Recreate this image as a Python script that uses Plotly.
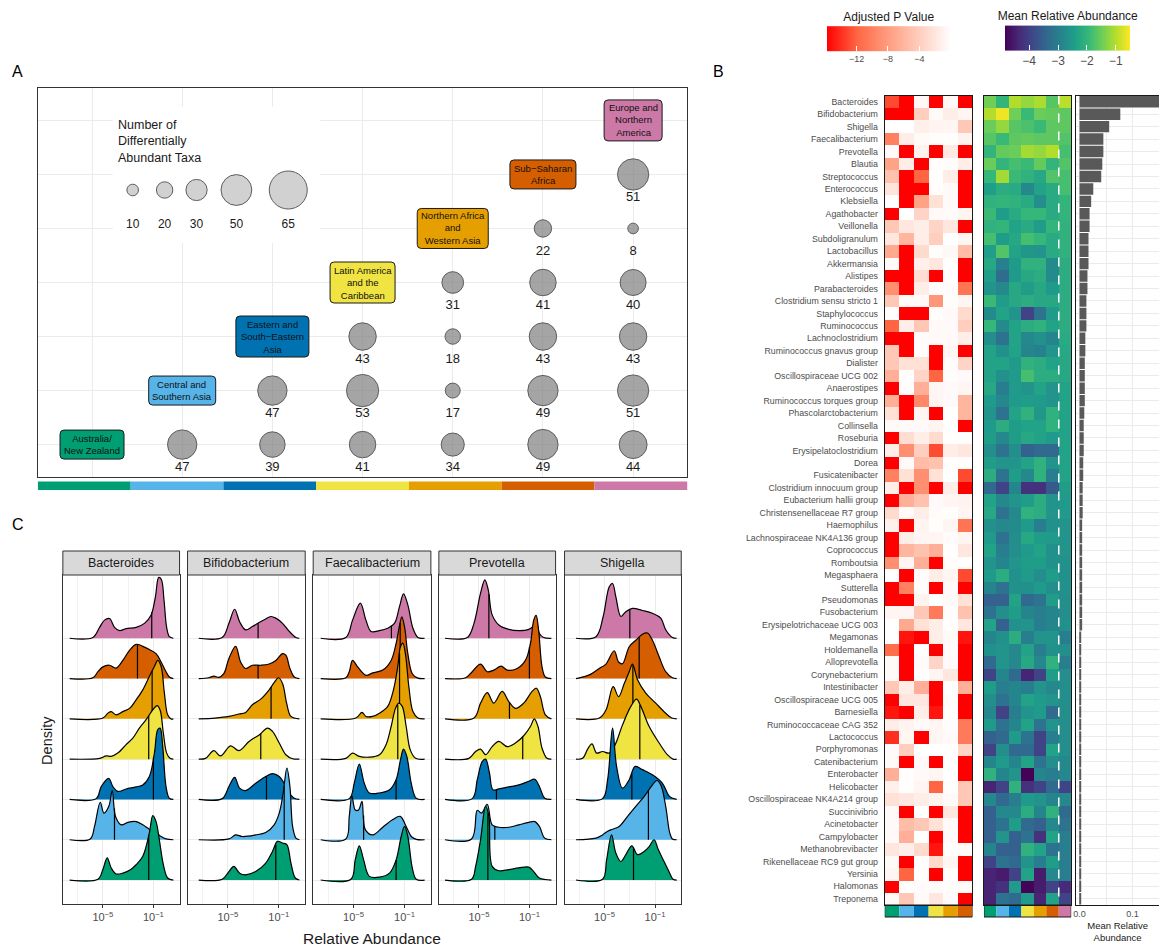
import numpy as np
import plotly.graph_objects as go

W, H = 1159, 947
FONT = "Liberation Sans, Arial, Helvetica, sans-serif"
INK = "#1A1A1A"
GREY30 = "#4D4D4D"
GRID = "#EBEBEB"
FRAME = "#333333"

# ---------------------------------------------------------------- regions
REGION_CODES = ["AUS", "CSA", "ESEA", "LAC", "NAWA", "SSA", "ENA"]
REGION_LABELS = [
    "Australia/<br>New Zealand",
    "Central and<br>Southern Asia",
    "Eastern and<br>South\u2212Eastern<br>Asia",
    "Latin America<br>and the<br>Caribbean",
    "Northern Africa<br>and<br>Western Asia",
    "Sub\u2212Saharan<br>Africa",
    "Europe and<br>Northern<br>America",
]
REGION_COLORS = ["#009E73", "#56B4E9", "#0072B2", "#F0E442", "#E69F00", "#D55E00", "#CC79A7"]

# ---------------------------------------------------------------- panel A data
PAIR_ROW = [1, 1, 1, 1, 1, 1, 2, 2, 2, 2, 2, 3, 3, 3, 3, 4, 4, 4, 5, 5, 6]
PAIR_COL = [2, 3, 4, 5, 6, 7, 3, 4, 5, 6, 7, 4, 5, 6, 7, 5, 6, 7, 6, 7, 7]
PAIR_COUNT = [47, 39, 41, 34, 49, 44, 47, 53, 17, 49, 51, 43, 18, 43, 43, 31, 41, 40, 22, 8, 51]
SIZE_KEYS = [10, 20, 30, 50, 65]

# ---------------------------------------------------------------- panel B data
TAXA = [
    "Bacteroides", "Bifidobacterium", "Shigella", "Faecalibacterium", "Prevotella",
    "Blautia", "Streptococcus", "Enterococcus", "Klebsiella", "Agathobacter",
    "Veillonella", "Subdoligranulum", "Lactobacillus", "Akkermansia", "Alistipes",
    "Parabacteroides", "Clostridium sensu stricto 1", "Staphylococcus", "Ruminococcus",
    "Lachnoclostridium", "Ruminococcus gnavus group", "Dialister", "Oscillospiraceae UCG 002",
    "Anaerostipes", "Ruminococcus torques group", "Phascolarctobacterium", "Collinsella",
    "Roseburia", "Erysipelatoclostridium", "Dorea", "Fusicatenibacter",
    "Clostridium innocuum group", "Eubacterium hallii group", "Christensenellaceae R7 group",
    "Haemophilus", "Lachnospiraceae NK4A136 group", "Coprococcus", "Romboutsia",
    "Megasphaera", "Sutterella", "Pseudomonas", "Fusobacterium", "Erysipelotrichaceae UCG 003",
    "Megamonas", "Holdemanella", "Alloprevotella", "Corynebacterium", "Intestinibacter",
    "Oscillospiraceae UCG 005", "Barnesiella", "Ruminococcaceae CAG 352", "Lactococcus",
    "Porphyromonas", "Catenibacterium", "Enterobacter", "Helicobacter",
    "Oscillospiraceae NK4A214 group", "Succinivibrio", "Acinetobacter", "Campylobacter",
    "Methanobrevibacter", "Rikenellaceae RC9 gut group", "Yersinia", "Halomonas", "Treponema",
]

# log10 adjusted p value, each region compared with Europe and Northern America
LOG_ADJ_P = [
    [-13, -16, -0.6, -16, -0.6, -16], [-16, -16, -4, -0.5, -1.5, -0.8],
    [0, 0, -1.2, -0.9, -0.8, -4.5], [-10, -1.5, -0.5, -0.2, -0.1, -1],
    [-0.4, -16, -1, -16, -1.7, -16], [-7.5, -1.5, -16, -0.1, -0.2, -1.5],
    [-5, -16, -12, 0, -1.5, -16], [-2.2, -16, -16, -0.1, -0.5, -16],
    [-0.1, -16, -7.5, -2.5, -0.4, -16], [-16, 0, -3.5, -0.5, -0.3, -0.9],
    [-4.5, -2, -1.5, -3.5, -2, -16], [-2, -6, -1.5, -4, 0, -0.8],
    [-7, -16, -3, -0.2, -0.6, -5.5], [-0.5, -16, -1.2, -2, -0.1, -16],
    [-16, -16, -2.8, -16, -0.1, -16], [-9, -16, -1.5, -0.2, -0.3, -11],
    [-4.5, -0.5, -0.5, -8.5, -0.2, -0.8], [-0.1, -16, -16, -0.1, -0.4, -3],
    [-12, -1.5, -4.5, -0.5, -0.4, -4], [-16, -16, -0.3, -0.5, -0.4, -1.5],
    [-4.5, -16, -0.2, -16, -0.8, -16], [-4.5, -2.5, -2.5, -16, -0.3, -3.5],
    [-6.5, -0.1, -3.5, -12, -0.2, -0.4], [-16, -0.2, -6.5, -0.8, -0.4, -0.8],
    [-6.5, -16, -9.5, -0.8, -0.4, -6], [-2.5, -16, -0.8, -16, 0, -6],
    [-0.5, -0.5, -0.4, -0.9, -0.1, -16], [-16, -2.8, -1.5, -3, -0.1, -0.2],
    [-1.5, -9, -4, -13, -1.5, -2], [-16, -0.5, -5.5, -5, -0.1, -0.2],
    [-10, -2.5, -9, -2.5, 0, -13], [-1.5, -16, -9, -16, -1.5, -16],
    [-16, -6.5, -5, -0.4, -0.8, -1], [-3, -0.5, -1.5, -0.3, -0.1, -0.8],
    [-1.2, -16, -0.9, -0.1, -0.8, -11], [-16, -1.5, -0.8, -0.8, -0.3, -0.9],
    [-16, -6, -5, -6.5, -0.1, -2], [-9, -0.7, -6.5, -16, -0.2, -0.1],
    [0, -16, -0.2, -1.5, -0.8, -13], [-16, -10, -0.2, -16, -0.4, -16],
    [-16, -16, -1, 0, -0.5, -2.5], [-0.7, -0.7, -4.5, -10.5, -0.2, -5],
    [0, -7, -2.5, -1.5, -0.1, -2], [0, -15, -16, -1.5, -0.5, -15],
    [-11.5, -16, 0, -16, -0.3, -16], [-0.5, -16, -0.3, -3.5, -0.4, -16],
    [-0.5, -16, -0.1, -0.7, -2, -16], [-4.5, -1.5, -6.5, -16, 0, -6.5],
    [-16, -2, -2, -16, -0.2, -16], [-15, -16, -1.5, -15, -0.1, -16],
    [-1.5, -0.9, -0.4, -0.8, -0.2, -10.5], [-14, -0.8, -16, -0.7, -0.4, -10.5],
    [-0.4, -4, 0, 0, -0.1, -3.5], [-0.5, -16, -0.4, -16, 0, -16],
    [-6.5, -0.1, -0.4, -0.8, 0, -16], [-1.2, -0.1, -0.8, -12, -0.1, -4.5],
    [-2.5, -2, -1.5, -1, -0.5, -4.5], [-0.5, -16, 0, -16, -2, -16],
    [-0.4, -5.5, -4.5, -2.5, -0.4, -16], [-0.4, -6.5, 0, -16, -0.4, -16],
    [-2, -1.3, -3, -15, -0.1, -0.5], [-0.5, -16, -0.1, -3, -0.8, -16],
    [-0.8, -12, -0.1, -16, -0.1, -16], [-16, -0.1, -0.3, -0.3, -0.2, -0.5],
    [-0.5, -4.5, -0.5, -2, -0.4, -16],
]

# log10 mean relative abundance per region (last column: Europe and Northern America)
LOG_MEAN_ABUND = [
    [-1.45, -2.0, -1.0, -1.2, -1.05, -1.65, -0.95], [-1.0, -0.6, -1.45, -1.9, -1.5, -1.55, -1.6],
    [-1.5, -1.2, -1.65, -1.75, -1.9, -1.6, -1.6], [-1.65, -1.9, -1.6, -1.55, -1.6, -1.6, -1.7],
    [-2.0, -1.55, -1.5, -1.1, -1.2, -1.0, -1.8], [-1.5, -2.0, -1.8, -1.9, -1.55, -2.0, -1.7],
    [-1.95, -1.1, -1.9, -2.05, -2.25, -1.7, -1.8], [-2.4, -2.15, -2.2, -2.8, -2.35, -2.2, -1.8],
    [-2.05, -2.0, -2.05, -2.2, -2.7, -2.2, -2.0], [-1.9, -2.45, -2.2, -1.95, -1.95, -2.2, -2.0],
    [-2.05, -2.0, -2.35, -2.2, -2.45, -2.0, -2.05], [-1.8, -2.45, -2.25, -1.8, -1.95, -2.2, -2.05],
    [-2.4, -1.7, -2.35, -2.55, -2.6, -2.2, -2.05], [-2.25, -2.95, -2.5, -2.05, -2.05, -2.75, -2.15],
    [-2.4, -3.3, -2.5, -2.25, -2.15, -2.75, -2.15], [-2.6, -2.8, -2.25, -2.45, -2.25, -2.5, -2.15],
    [-1.9, -2.45, -2.25, -2.15, -2.25, -2.25, -2.15], [-2.75, -2.35, -2.6, -3.95, -3.2, -2.5, -2.15],
    [-1.95, -2.75, -2.35, -2.15, -2.05, -2.35, -2.15], [-2.7, -3.2, -2.35, -2.8, -2.65, -2.85, -2.2],
    [-2.35, -2.65, -2.35, -2.85, -2.95, -2.6, -2.25], [-2.35, -2.35, -2.5, -2.05, -2.15, -2.35, -2.25],
    [-2.35, -2.65, -2.5, -1.8, -2.15, -2.15, -2.25], [-2.25, -3.0, -2.5, -2.6, -2.35, -2.6, -2.35],
    [-2.5, -2.8, -2.5, -2.45, -2.5, -2.6, -2.35], [-2.6, -3.2, -2.35, -2.05, -2.55, -2.05, -2.35],
    [-2.5, -2.15, -2.45, -2.35, -2.35, -2.05, -2.35], [-2.45, -2.8, -2.45, -2.25, -2.35, -2.5, -2.35],
    [-2.7, -3.2, -2.7, -3.5, -3.35, -3.35, -2.35], [-2.45, -2.6, -2.6, -2.35, -2.05, -2.6, -2.35],
    [-2.15, -3.2, -2.45, -2.8, -2.05, -3.0, -2.35], [-3.35, -3.95, -2.85, -4.2, -4.2, -3.6, -2.45],
    [-2.35, -2.8, -2.6, -2.45, -2.15, -2.6, -2.5], [-2.25, -3.2, -2.8, -2.05, -2.15, -2.6, -2.5],
    [-2.65, -2.8, -2.75, -2.5, -3.0, -2.65, -2.6], [-2.5, -3.2, -2.7, -2.25, -2.45, -2.5, -2.6],
    [-2.35, -3.0, -2.7, -2.5, -2.35, -2.65, -2.6], [-2.6, -2.85, -2.6, -2.45, -2.45, -2.65, -2.65],
    [-2.5, -2.15, -2.65, -2.5, -2.7, -2.45, -2.65], [-2.85, -3.2, -2.65, -2.65, -2.5, -2.7, -2.65],
    [-3.5, -3.5, -2.35, -3.35, -3.2, -2.45, -2.7], [-3.2, -2.7, -2.45, -2.85, -3.0, -2.85, -2.7],
    [-2.35, -3.5, -2.65, -2.6, -3.0, -2.85, -2.65], [-2.85, -2.65, -2.15, -3.0, -2.6, -2.6, -3.0],
    [-2.65, -2.6, -2.8, -2.35, -3.0, -2.65, -2.7], [-3.35, -2.6, -2.8, -2.25, -2.8, -2.05, -3.0],
    [-3.95, -2.85, -3.35, -4.4, -3.95, -2.45, -2.7], [-2.45, -3.0, -2.85, -3.0, -2.6, -2.8, -2.7],
    [-2.7, -3.2, -2.85, -2.35, -2.5, -2.6, -2.7], [-2.8, -3.95, -3.0, -2.6, -2.5, -3.35, -2.7],
    [-2.5, -3.2, -2.85, -2.35, -3.2, -2.6, -2.7], [-3.5, -3.35, -2.5, -3.2, -3.95, -3.0, -2.7],
    [-3.95, -2.7, -3.35, -3.35, -3.95, -2.35, -2.7], [-2.85, -2.5, -2.85, -2.35, -3.2, -2.7, -2.8],
    [-2.05, -2.85, -2.6, -4.8, -2.85, -3.0, -2.8], [-4.4, -3.95, -2.05, -4.2, -3.95, -3.35, -3.95],
    [-2.8, -3.35, -3.0, -2.5, -2.6, -2.85, -2.8], [-3.5, -2.8, -2.8, -2.15, -2.85, -2.05, -3.35],
    [-3.5, -3.2, -2.45, -3.35, -3.5, -2.8, -3.2], [-3.5, -2.6, -3.5, -3.2, -4.2, -2.35, -3.0],
    [-2.85, -3.5, -3.5, -2.05, -2.35, -3.2, -3.0], [-3.95, -3.2, -3.35, -2.6, -3.0, -2.45, -3.0],
    [-4.4, -4.5, -3.95, -2.35, -4.5, -2.8, -3.0], [-4.4, -4.2, -2.5, -4.8, -4.5, -3.95, -4.3],
    [-4.4, -3.2, -3.35, -2.5, -4.4, -2.35, -3.95],
]

# overall mean relative abundance per genus
MEAN_REL_ABUND = [
    0.170, 0.077, 0.056, 0.045, 0.045, 0.043, 0.041, 0.026, 0.022, 0.019,
    0.019, 0.017, 0.017, 0.017, 0.015, 0.015, 0.013, 0.013, 0.013, 0.011,
    0.011, 0.010, 0.010, 0.010, 0.010, 0.009, 0.008, 0.008, 0.008, 0.007,
    0.007, 0.006, 0.006, 0.006, 0.005, 0.005, 0.005, 0.005, 0.005, 0.005,
    0.005, 0.005, 0.005, 0.003, 0.003, 0.003, 0.003, 0.003, 0.003, 0.003,
    0.003, 0.003, 0.003, 0.003, 0.003, 0.003, 0.003, 0.003, 0.002, 0.002,
    0.002, 0.002, 0.002, 0.002, 0.002,
]

# ---------------------------------------------------------------- panel C data
# density ridges: (log10 relative abundance, scaled density) per region
RIDGES_BACTEROIDES = {
    "ENA": [(-7.63, 0), (-5.79, 0.02), (-5.26, 0.27), (-4.87, 0.45), (-4.47, 0.49), (-4.08, 0.27), (-3.68, 0.19), (-3.16, 0.24), (-2.37, 0.27), (-1.71, 0.37), (-1.18, 0.58), (-0.84, 1.03), (-0.58, 1.51), (-0.37, 1.46), (-0.16, 0.95), (0.05, 0.27), (0.26, 0.04), (0.58, 0)],
    "SSA": [(-7.63, 0), (-5.79, 0.02), (-5.39, 0.17), (-5.0, 0.29), (-4.47, 0.33), (-3.95, 0.26), (-3.42, 0.45), (-2.89, 0.70), (-2.37, 0.85), (-1.84, 0.80), (-1.32, 0.72), (-0.79, 0.62), (-0.39, 0.41), (0.0, 0.17), (0.26, 0.04), (0.58, 0)],
    "NAWA": [(-7.63, 0), (-5.0, 0.02), (-4.61, 0.14), (-4.34, 0.18), (-3.95, 0.10), (-3.42, 0.18), (-2.89, 0.26), (-2.37, 0.47), (-1.84, 0.72), (-1.32, 1.05), (-0.92, 1.30), (-0.66, 1.45), (-0.39, 1.30), (-0.13, 0.64), (0.13, 0.10), (0.39, 0), (0.58, 0)],
    "LAC": [(-7.63, 0), (-5.26, 0.02), (-4.74, 0.08), (-4.34, 0.07), (-3.82, 0.15), (-3.16, 0.36), (-2.63, 0.52), (-2.11, 0.77), (-1.58, 0.98), (-1.05, 1.22), (-0.71, 1.33), (-0.47, 1.22), (-0.21, 0.64), (0.05, 0.15), (0.32, 0.02), (0.58, 0)],
    "ESEA": [(-7.63, 0), (-5.53, 0.02), (-5.13, 0.32), (-4.53, 0.52), (-4.21, 0.32), (-3.82, 0.20), (-3.16, 0.26), (-2.37, 0.31), (-1.84, 0.36), (-1.32, 0.57), (-0.92, 1.15), (-0.66, 1.73), (-0.47, 1.77), (-0.26, 1.31), (0.0, 0.32), (0.26, 0.03), (0.58, 0)],
    "CSA": [(-7.63, 0), (-6.0, 0.02), (-5.66, 0.33), (-5.21, 0.93), (-4.92, 0.66), (-4.53, 0.83), (-4.26, 1.22), (-4.0, 0.58), (-3.55, 0.37), (-3.03, 0.43), (-2.37, 0.45), (-1.84, 0.37), (-1.32, 0.26), (-0.79, 0.18), (-0.39, 0.08), (0.0, 0.02), (0.58, 0)],
    "AUS": [(-7.63, 0), (-5.39, 0.02), (-5.0, 0.26), (-4.66, 0.55), (-4.34, 0.30), (-3.95, 0.15), (-3.42, 0.17), (-2.89, 0.24), (-2.37, 0.38), (-1.84, 0.59), (-1.32, 1.17), (-1.05, 1.60), (-0.79, 1.45), (-0.53, 1.0), (-0.21, 0.38), (0.13, 0.05), (0.58, 0)],
}
MEDIANS_BACTEROIDES = {"ENA": -1.13, "SSA": -2.26, "NAWA": -1.10, "LAC": -1.37, "ESEA": -1.00, "CSA": -4.08, "AUS": -1.37}

RIDGES_BIFIDOBACTERIUM = {
    "ENA": [(-7.29, 0), (-5.45, 0.02), (-4.92, 0.37), (-4.47, 0.72), (-4.08, 0.41), (-3.61, 0.21), (-3.08, 0.29), (-2.55, 0.39), (-2.03, 0.48), (-1.63, 0.54), (-1.24, 0.50), (-0.71, 0.37), (-0.18, 0.17), (0.34, 0.02), (0.61, 0)],
    "SSA": [(-7.29, 0), (-6.5, 0.02), (-6.1, 0.06), (-5.71, 0.03), (-5.32, 0.12), (-4.92, 0.50), (-4.39, 0.80), (-4.0, 0.41), (-3.61, 0.25), (-3.08, 0.33), (-2.42, 0.33), (-1.76, 0.36), (-1.24, 0.45), (-0.71, 0.62), (-0.45, 0.58), (-0.13, 0.25), (0.21, 0.04), (0.61, 0)],
    "NAWA": [(-7.29, 0), (-6.0, 0.02), (-4.92, 0.06), (-4.13, 0.12), (-3.61, 0.16), (-3.08, 0.35), (-2.42, 0.49), (-1.76, 0.72), (-1.37, 0.90), (-1.03, 1.02), (-0.71, 0.88), (-0.39, 0.39), (-0.05, 0.06), (0.61, 0)],
    "LAC": [(-7.29, 0), (-6.76, 0.02), (-6.1, 0.21), (-5.58, 0.08), (-4.79, 0.33), (-4.13, 0.21), (-3.34, 0.44), (-2.55, 0.60), (-1.89, 0.77), (-1.5, 0.69), (-0.97, 0.40), (-0.45, 0.11), (0.08, 0.01), (0.61, 0)],
    "ESEA": [(-7.29, 0), (-5.45, 0.02), (-4.92, 0.32), (-4.47, 0.55), (-4.08, 0.28), (-3.61, 0.22), (-2.82, 0.40), (-2.03, 0.57), (-1.5, 0.64), (-0.97, 0.57), (-0.58, 0.40), (-0.18, 0.16), (0.21, 0.03), (0.61, 0)],
    "CSA": [(-7.29, 0), (-4.92, 0.02), (-4.39, 0.12), (-3.87, 0.08), (-2.82, 0.12), (-2.03, 0.18), (-1.37, 0.37), (-0.97, 0.66), (-0.66, 1.16), (-0.37, 1.78), (-0.13, 1.32), (0.08, 0.33), (0.34, 0.04), (0.61, 0)],
    "AUS": [(-7.29, 0), (-5.45, 0.02), (-4.92, 0.21), (-4.53, 0.34), (-4.08, 0.17), (-3.61, 0.13), (-2.82, 0.21), (-2.03, 0.42), (-1.5, 0.71), (-1.11, 0.96), (-0.71, 0.92), (-0.37, 0.88), (-0.05, 0.42), (0.29, 0.05), (0.61, 0)],
}
MEDIANS_BIFIDOBACTERIUM = {"ENA": -2.63, "SSA": -2.63, "NAWA": -1.61, "LAC": -2.42, "ESEA": -1.97, "CSA": -0.58, "AUS": -1.24}

RIDGES_FAECALIBACTERIUM = {
    "ENA": [(-7.58, 0), (-5.61, 0.02), (-5.08, 0.45), (-4.47, 0.87), (-4.03, 0.45), (-3.63, 0.17), (-2.97, 0.19), (-2.32, 0.25), (-1.79, 0.37), (-1.39, 0.79), (-1.08, 1.10), (-0.74, 0.83), (-0.34, 0.25), (0.05, 0.02), (0.58, 0)],
    "SSA": [(-7.58, 0), (-5.61, 0.02), (-5.34, 0.17), (-5.08, 0.45), (-4.68, 0.29), (-4.03, 0.08), (-3.5, 0.14), (-2.71, 0.21), (-2.05, 0.45), (-1.66, 0.87), (-1.39, 1.32), (-1.21, 1.53), (-1.0, 1.28), (-0.74, 0.62), (-0.39, 0.12), (0.05, 0.01), (0.58, 0)],
    "NAWA": [(-7.58, 0), (-4.82, 0.02), (-4.34, 0.16), (-4.03, 0.06), (-3.5, 0.06), (-2.97, 0.14), (-2.32, 0.31), (-1.87, 0.72), (-1.53, 1.30), (-1.32, 1.79), (-1.13, 1.88), (-0.92, 1.59), (-0.66, 0.80), (-0.34, 0.18), (0.05, 0.02), (0.58, 0)],
    "LAC": [(-7.58, 0), (-5.61, 0.02), (-5.08, 0.15), (-4.55, 0.07), (-3.76, 0.05), (-2.97, 0.11), (-2.45, 0.36), (-2.05, 0.81), (-1.71, 1.26), (-1.45, 1.39), (-1.18, 1.31), (-0.87, 0.81), (-0.55, 0.23), (-0.13, 0.02), (0.58, 0)],
    "ESEA": [(-7.58, 0), (-5.34, 0.02), (-4.95, 0.40), (-4.55, 0.88), (-4.16, 0.40), (-3.76, 0.16), (-2.97, 0.16), (-2.18, 0.24), (-1.66, 0.49), (-1.32, 0.98), (-1.08, 1.25), (-0.82, 1.07), (-0.47, 0.40), (-0.08, 0.03), (0.58, 0)],
    "CSA": [(-7.58, 0), (-5.61, 0.02), (-5.34, 0.58), (-5.13, 1.09), (-4.87, 0.74), (-4.61, 0.74), (-4.34, 0.95), (-4.08, 0.25), (-3.5, 0.12), (-2.71, 0.31), (-1.92, 0.50), (-1.34, 0.58), (-0.87, 0.33), (-0.47, 0.08), (-0.08, 0.01), (0.58, 0)],
    "AUS": [(-7.58, 0), (-5.21, 0.02), (-4.87, 0.50), (-4.55, 0.85), (-4.21, 0.50), (-3.76, 0.09), (-2.97, 0.07), (-2.18, 0.17), (-1.66, 0.50), (-1.26, 1.08), (-1.0, 1.33), (-0.74, 1.08), (-0.39, 0.30), (-0.08, 0.02), (0.58, 0)],
}
MEDIANS_FAECALIBACTERIUM = {"ENA": -2.03, "SSA": -1.34, "NAWA": -1.39, "LAC": -1.53, "ESEA": -1.66, "CSA": -4.21, "AUS": -1.66}

RIDGES_PREVOTELLA = {
    "ENA": [(-7.68, 0), (-5.92, 0.02), (-5.39, 0.37), (-4.87, 1.12), (-4.53, 1.45), (-4.26, 1.20), (-3.95, 0.58), (-3.42, 0.33), (-2.63, 0.22), (-1.84, 0.19), (-1.05, 0.22), (-0.74, 0.29), (-0.47, 0.45), (-0.21, 0.12), (0.13, 0.02), (0.74, 0)],
    "SSA": [(-7.68, 0), (-6.05, 0.02), (-5.53, 0.17), (-4.87, 0.36), (-4.34, 0.17), (-3.82, 0.21), (-3.24, 0.31), (-2.76, 0.21), (-1.97, 0.25), (-1.32, 0.45), (-0.92, 0.87), (-0.66, 1.45), (-0.47, 1.57), (-0.26, 1.16), (0.0, 0.29), (0.26, 0.04), (0.74, 0)],
    "NAWA": [(-7.68, 0), (-5.39, 0.02), (-4.87, 0.39), (-4.34, 0.65), (-3.82, 0.39), (-3.16, 0.68), (-2.63, 0.43), (-2.11, 0.26), (-1.45, 0.39), (-0.79, 0.68), (-0.45, 0.76), (-0.13, 0.55), (0.26, 0.10), (0.74, 0)],
    "LAC": [(-7.68, 0), (-5.79, 0.02), (-5.26, 0.19), (-4.87, 0.25), (-4.47, 0.11), (-3.95, 0.31), (-3.42, 0.44), (-2.76, 0.31), (-2.11, 0.40), (-1.45, 0.58), (-0.92, 0.81), (-0.61, 1.0), (-0.32, 0.81), (0.0, 0.27), (0.39, 0.02), (0.74, 0)],
    "ESEA": [(-7.68, 0), (-5.53, 0.02), (-5.13, 0.49), (-4.74, 0.94), (-4.47, 1.0), (-4.16, 0.65), (-3.89, 0.24), (-3.42, 0.26), (-2.63, 0.31), (-1.84, 0.36), (-1.05, 0.45), (-0.58, 0.50), (-0.21, 0.32), (0.21, 0.03), (0.74, 0)],
    "CSA": [(-7.68, 0), (-5.58, 0.02), (-5.13, 0.73), (-4.79, 0.66), (-4.34, 0.88), (-3.95, 0.37), (-3.42, 0.31), (-2.63, 0.31), (-1.84, 0.37), (-1.05, 0.43), (-0.58, 0.45), (-0.21, 0.33), (0.21, 0.04), (0.74, 0)],
    "AUS": [(-7.68, 0), (-5.58, 0.02), (-5.26, 0.34), (-4.87, 1.0), (-4.47, 1.83), (-4.21, 1.58), (-3.95, 0.34), (-3.42, 0.23), (-2.63, 0.26), (-1.84, 0.30), (-1.05, 0.32), (-0.66, 0.21), (-0.21, 0.05), (0.74, 0)],
}
MEDIANS_PREVOTELLA = {"ENA": -4.21, "SSA": -1.00, "NAWA": -2.58, "LAC": -1.53, "ESEA": -3.61, "CSA": -3.74, "AUS": -4.29}

RIDGES_SHIGELLA = {
    "ENA": [(-7.26, 0), (-5.68, 0.04), (-5.11, 0.54), (-4.63, 1.28), (-4.37, 1.36), (-4.11, 1.03), (-3.71, 0.54), (-3.32, 0.66), (-2.79, 0.74), (-2.0, 0.69), (-1.21, 0.62), (-0.55, 0.50), (-0.16, 0.21), (0.37, 0.02), (0.71, 0)],
    "SSA": [(-7.26, 0), (-6.47, 0.06), (-6.08, 0.11), (-5.42, 0.25), (-4.89, 0.36), (-4.24, 0.69), (-3.89, 0.41), (-3.58, 0.37), (-3.05, 0.79), (-2.53, 0.95), (-2.0, 1.10), (-1.61, 1.13), (-1.21, 0.95), (-0.68, 0.54), (-0.16, 0.17), (0.37, 0.02), (0.71, 0)],
    "NAWA": [(-7.26, 0), (-5.42, 0.02), (-4.89, 0.22), (-4.32, 0.80), (-3.89, 0.55), (-3.45, 0.87), (-3.05, 1.17), (-2.79, 1.36), (-2.39, 0.97), (-1.74, 0.64), (-0.95, 0.39), (-0.16, 0.14), (0.32, 0.02), (0.71, 0)],
    "LAC": [(-7.26, 0), (-6.74, 0.02), (-6.34, 0.25), (-6.0, 0.38), (-5.63, 0.15), (-5.16, 0.19), (-4.63, 0.15), (-4.16, 0.36), (-3.58, 0.85), (-2.92, 1.31), (-2.47, 1.49), (-2.13, 1.31), (-1.47, 0.81), (-0.68, 0.40), (-0.03, 0.11), (0.42, 0), (0.71, 0)],
    "ESEA": [(-7.26, 0), (-5.16, 0.02), (-4.76, 0.49), (-4.37, 1.77), (-4.05, 0.82), (-3.58, 0.28), (-3.05, 0.49), (-2.58, 0.82), (-2.0, 0.74), (-1.21, 0.61), (-0.42, 0.40), (0.16, 0.07), (0.71, 0)],
    "CSA": [(-7.26, 0), (-5.68, 0.04), (-5.16, 0.12), (-4.76, 0.21), (-4.37, 0.26), (-3.84, 0.33), (-3.18, 0.58), (-2.53, 0.83), (-1.87, 1.07), (-1.21, 1.36), (-0.87, 1.47), (-0.55, 1.36), (-0.16, 0.83), (0.16, 0.17), (0.37, 0.02), (0.71, 0)],
    "AUS": [(-7.26, 0), (-5.16, 0.02), (-4.84, 0.50), (-4.45, 1.12), (-4.11, 0.67), (-3.71, 0.46), (-3.32, 0.63), (-2.84, 0.85), (-2.39, 0.63), (-1.87, 0.71), (-1.47, 0.83), (-1.08, 1.0), (-0.74, 0.75), (-0.29, 0.46), (0.16, 0.17), (0.42, 0.02), (0.71, 0)],
}
MEDIANS_SHIGELLA = {"ENA": -3.00, "SSA": -2.26, "NAWA": -2.76, "LAC": -2.21, "ESEA": -2.84, "CSA": -1.53, "AUS": -2.71}

FACETS = [
    ("Bacteroides", RIDGES_BACTEROIDES, MEDIANS_BACTEROIDES),
    ("Bifidobacterium", RIDGES_BIFIDOBACTERIUM, MEDIANS_BIFIDOBACTERIUM),
    ("Faecalibacterium", RIDGES_FAECALIBACTERIUM, MEDIANS_FAECALIBACTERIUM),
    ("Prevotella", RIDGES_PREVOTELLA, MEDIANS_PREVOTELLA),
    ("Shigella", RIDGES_SHIGELLA, MEDIANS_SHIGELLA),
]

assert len(TAXA) == len(LOG_ADJ_P) == len(LOG_MEAN_ABUND) == len(MEAN_REL_ABUND) == 65


# ---------------------------------------------------------------- helpers
def fx(x):
    return x / W


def fy(y):
    return 1 - y / H


def dom_x(a, b):
    return [fx(a), fx(b)]


def dom_y(top, bottom):
    return [fy(bottom), fy(top)]


def rounded_box(w, h, r=4):
    a, b = w / 2, h / 2
    return (f"M {-a + r},{-b} L {a - r},{-b} Q {a},{-b} {a},{-b + r} "
            f"L {a},{b - r} Q {a},{b} {a - r},{b} L {-a + r},{b} Q {-a},{b} {-a},{b - r} "
            f"L {-a},{-b + r} Q {-a},{-b} {-a + r},{-b} Z")


def bubble_px(n):
    return 6.8 + 0.48 * n


def paper_text(x, y, text, size, color=INK, xanchor="center", yanchor="middle", **kw):
    return dict(x=fx(x), y=fy(y), xref="paper", yref="paper", showarrow=False, text=text,
                xanchor=xanchor, yanchor=yanchor, font=dict(size=size, color=color), **kw)


fig = go.Figure()
shapes, annotations = [], []
layout = dict(
    width=W, height=H, margin=dict(l=0, r=0, t=0, b=0),
    paper_bgcolor="white", plot_bgcolor="white", showlegend=False,
    font=dict(family=FONT, color=INK),
)

# ================================================================ panel A
layout["xaxis"] = dict(domain=dom_x(35, 686), range=[0.4, 7.6], tickvals=list(range(1, 8)),
                       showticklabels=False, ticks="", showgrid=True, gridcolor=GRID, gridwidth=1,
                       zeroline=False, showline=True, mirror=True, linecolor=FRAME, linewidth=1)
layout["yaxis"] = dict(domain=dom_y(88, 477), range=[0.4, 7.6], tickvals=list(range(1, 8)),
                       showticklabels=False, ticks="", showgrid=True, gridcolor=GRID, gridwidth=1,
                       zeroline=False, showline=True, mirror=True, linecolor=FRAME, linewidth=1)

# white backing for the size key
shapes.append(dict(type="rect", xref="x", yref="y", x0=1.229, x1=3.53, y0=4.731, y1=7.248,
                   fillcolor="white", line=dict(width=0), layer="between"))

fig.add_trace(go.Scatter(
    x=PAIR_COL, y=PAIR_ROW, mode="markers", xaxis="x", yaxis="y", hoverinfo="skip",
    marker=dict(size=[bubble_px(n) for n in PAIR_COUNT], color="#7F7F7F",
                line=dict(color=INK, width=1)),
))
fig.add_trace(go.Scatter(
    x=PAIR_COL, y=[r - 0.435 for r in PAIR_ROW], mode="text", xaxis="x", yaxis="y",
    text=[str(n) for n in PAIR_COUNT], textfont=dict(size=13, color=INK), hoverinfo="skip",
))

# size key
key_x = [1.451, 1.805, 2.159, 2.601, 3.176]
fig.add_trace(go.Scatter(
    x=key_x, y=[5.712] * len(SIZE_KEYS), mode="markers", xaxis="x", yaxis="y", hoverinfo="skip",
    marker=dict(size=[bubble_px(n) for n in SIZE_KEYS], color="#BEBEBE",
                line=dict(color=INK, width=1)),
))
fig.add_trace(go.Scatter(
    x=key_x, y=[5.064] * len(SIZE_KEYS), mode="text", xaxis="x", yaxis="y", hoverinfo="skip",
    text=[str(n) for n in SIZE_KEYS], textfont=dict(size=12, color=INK),
))
annotations.append(paper_text(113, 116, "Number of<br>Differentially<br>Abundant Taxa", 12.5,
                              xanchor="left", yanchor="top", align="left"))

# region label boxes on the diagonal
LABEL_BOX_PX = [(64, 29), (67, 29), (73, 41), (65, 41), (71, 40), (66, 29), (58, 41)]
for i, (lab, col, (bw, bh)) in enumerate(zip(REGION_LABELS, REGION_COLORS, LABEL_BOX_PX), start=1):
    shapes.append(dict(type="path", xref="x", yref="y", xsizemode="pixel", ysizemode="pixel",
                       xanchor=i, yanchor=i, path=rounded_box(bw, bh), fillcolor=col,
                       line=dict(color=INK, width=1), layer="above"))
    annotations.append(dict(x=i, y=i, xref="x", yref="y", showarrow=False, text=lab,
                            xanchor="center", yanchor="middle",
                            font=dict(size=9.5, color="#111111"), align="center"))

# colour key strip under panel A
seg = (686 - 35) / 7
for k, col in enumerate(REGION_COLORS):
    shapes.append(dict(type="rect", xref="paper", yref="paper", x0=fx(35 + k * seg),
                       x1=fx(35 + (k + 1) * seg), y0=fy(490), y1=fy(481.5), fillcolor=col,
                       line=dict(width=0)))

# ================================================================ panel B
rows = list(range(len(TAXA)))
heat_y = dict(domain=dom_y(95.5, 905), range=[len(TAXA) - 0.5, -0.5], zeroline=False,
              showgrid=False, ticks="", showline=True, mirror=True, linecolor=INK, linewidth=1)

layout["xaxis2"] = dict(domain=dom_x(884, 972), range=[-0.5, 5.5], showticklabels=False,
                        ticks="", showgrid=False, zeroline=False, anchor="y2",
                        showline=True, mirror=True, linecolor=INK, linewidth=1)
layout["yaxis2"] = dict(heat_y, anchor="x2", tickvals=rows, ticktext=TAXA,
                        tickfont=dict(size=8.8, color=GREY30), ticklabelstandoff=4)
layout["xaxis3"] = dict(domain=dom_x(983.5, 1071), range=[-0.5, 6.5], showticklabels=False,
                        ticks="", showgrid=False, zeroline=False, anchor="y3",
                        showline=True, mirror=True, linecolor=INK, linewidth=1)
layout["yaxis3"] = dict(heat_y, anchor="x3", showticklabels=False)

P_SCALE = [[0, "#FF0000"], [0.25, "#FF6846"], [0.5, "#FF9E81"], [0.75, "#FFCFBF"], [1, "#FFFFFF"]]
fig.add_trace(go.Heatmap(
    z=LOG_ADJ_P, x=list(range(6)), y=rows, xaxis="x2", yaxis="y2", colorscale=P_SCALE,
    zmin=-15.8, zmax=0, hoverinfo="skip",
    colorbar=dict(orientation="h", x=fx(888), xanchor="center", y=fy(70), yanchor="bottom",
                  len=124, lenmode="pixels", thickness=25, thicknessmode="pixels",
                  xpad=0, ypad=0, outlinewidth=0,
                  tickvals=[-12, -8, -4], ticktext=["\u221212", "\u22128", "\u22124"],
                  ticks="inside", ticklen=5, tickcolor="white", tickwidth=1,
                  tickfont=dict(size=9, color=GREY30),
                  title=dict(text="Adjusted P Value", side="top", font=dict(size=12, color=INK))),
))
fig.add_trace(go.Heatmap(
    z=LOG_MEAN_ABUND, x=list(range(7)), y=rows, xaxis="x3", yaxis="y3", colorscale="Viridis",
    zmin=-4.83, zmax=-0.5, hoverinfo="skip",
    colorbar=dict(orientation="h", x=fx(1067.5), xanchor="center", y=fy(74), yanchor="bottom",
                  len=125, lenmode="pixels", thickness=25, thicknessmode="pixels",
                  xpad=0, ypad=0, outlinewidth=0,
                  tickvals=[-4, -3, -2, -1], ticktext=["\u22124", "\u22123", "\u22122", "\u22121"],
                  ticks="inside", ticklen=5, tickcolor="white", tickwidth=1,
                  tickfont=dict(size=12, color=GREY30),
                  title=dict(text="Mean Relative Abundance", side="top",
                             font=dict(size=12, color=INK))),
))
shapes.append(dict(type="line", xref="x3", yref="y3", x0=5.5, x1=5.5, y0=-0.5, y1=len(TAXA) - 0.5,
                   line=dict(color="white", width=1.5, dash="dash"), layer="above"))

# region colour strips below the heatmaps
for k in range(6):
    shapes.append(dict(type="rect", xref="x2", yref="paper", x0=k - 0.5, x1=k + 0.5,
                       y0=fy(917), y1=fy(906), fillcolor=REGION_COLORS[k], line=dict(width=0)))
for k in range(7):
    shapes.append(dict(type="rect", xref="x3", yref="paper", x0=k - 0.5, x1=k + 0.5,
                       y0=fy(917), y1=fy(906), fillcolor=REGION_COLORS[k], line=dict(width=0)))
for ax, hi in (("x2", 5.5), ("x3", 6.5)):
    shapes.append(dict(type="rect", xref=ax, yref="paper", x0=-0.5, x1=hi, y0=fy(917), y1=fy(905),
                       fillcolor="rgba(0,0,0,0)", line=dict(color=INK, width=1)))

# mean relative abundance bars
layout["xaxis4"] = dict(domain=dom_x(1076, 1159), range=[-0.0062, 0.150], anchor="y4",
                        tickvals=[0, 0.05, 0.1, 0.15], ticktext=["0.0", "", "0.1", ""],
                        ticks="", tickfont=dict(size=9, color=GREY30), showgrid=True,
                        gridcolor=GRID, gridwidth=1, zeroline=False, showline=True, mirror=True,
                        linecolor=INK, linewidth=1,
                        title=dict(text="Mean Relative<br>Abundance", font=dict(size=9.5, color=INK),
                                   standoff=4))
layout["yaxis4"] = dict(domain=dom_y(95.5, 905), range=[len(TAXA) - 0.5, -0.5], anchor="x4",
                        tickvals=rows, showticklabels=False, ticks="", showgrid=True,
                        gridcolor=GRID, gridwidth=1, zeroline=False, showline=True,
                        linecolor=INK, linewidth=1)
fig.add_trace(go.Bar(x=MEAN_REL_ABUND, y=rows, orientation="h", xaxis="x4", yaxis="y4",
                     marker=dict(color="#595959", line=dict(width=0)), width=0.92,
                     hoverinfo="skip"))

# ================================================================ panel C
FACET_X = [(60, 177), (185, 303), (311, 429), (437, 554), (563, 680)]
RIDGE_ORDER = ["ENA", "SSA", "NAWA", "LAC", "ESEA", "CSA", "AUS"]   # drawn top to bottom
BASELINE = {code: i + 1 for i, code in enumerate(REGION_CODES)}
COLOR_OF = dict(zip(REGION_CODES, REGION_COLORS))

for f, ((name, ridges, medians), (x0p, x1p)) in enumerate(zip(FACETS, FACET_X)):
    n = f + 5
    xa, ya = f"x{n}", f"y{n}"
    layout[f"xaxis{n}"] = dict(domain=dom_x(x0p, x1p), range=[-8.17, 1.07], anchor=ya,
                               tickvals=[-5, -1], ticktext=["10<sup>\u22125</sup>", "10<sup>\u22121</sup>"],
                               ticks="outside", ticklen=3, tickcolor=FRAME,
                               tickfont=dict(size=11, color=GREY30),
                               showgrid=True, gridcolor=GRID, gridwidth=1, zeroline=False,
                               minor=dict(tickvals=[-7, -3, 1], showgrid=True, gridcolor="#F2F2F2",
                                          gridwidth=1, ticks=""),
                               showline=True, mirror=True, linecolor=FRAME, linewidth=1)
    layout[f"yaxis{n}"] = dict(domain=dom_y(575, 904), range=[0.405, 8.57], anchor=xa,
                               tickvals=list(range(1, 8)), showticklabels=False, ticks="",
                               showgrid=True, gridcolor=GRID, gridwidth=1, zeroline=False,
                               showline=True, mirror=True, linecolor=FRAME, linewidth=1)
    for code in RIDGE_ORDER:
        pts = ridges[code]
        xs = [p[0] for p in pts]
        hs = [p[1] for p in pts]
        base = BASELINE[code]
        fig.add_trace(go.Scatter(x=[xs[0], xs[-1]], y=[base, base], mode="lines",
                                 line=dict(width=0), xaxis=xa, yaxis=ya, hoverinfo="skip"))
        fig.add_trace(go.Scatter(x=xs, y=[base + h for h in hs], mode="lines", fill="tonexty",
                                 fillcolor=COLOR_OF[code],
                                 line=dict(color="black", width=1.2, shape="spline", smoothing=1.0),
                                 xaxis=xa, yaxis=ya, hoverinfo="skip"))
        med = medians[code]
        top = base + float(np.interp(med, xs, hs))
        fig.add_trace(go.Scatter(x=[med, med], y=[base, top], mode="lines",
                                 line=dict(color="black", width=1.2), xaxis=xa, yaxis=ya,
                                 hoverinfo="skip"))
    # facet strip
    shapes.append(dict(type="rect", xref="paper", yref="paper", x0=fx(x0p), x1=fx(x1p),
                       y0=fy(575), y1=fy(551), fillcolor="#D9D9D9",
                       line=dict(color=FRAME, width=1)))
    annotations.append(paper_text((x0p + x1p) / 2, 563, name, 12.5))

annotations.append(paper_text(44, 740, "Density", 14.5, textangle=-90))
annotations.append(paper_text(370, 938, "Relative Abundance", 15.5))

# panel letters
for letter, (lx, ly) in {"A": (15, 72), "B": (717, 72), "C": (15, 524)}.items():
    annotations.append(paper_text(lx, ly, letter, 16, color="black"))

layout["shapes"] = shapes
layout["annotations"] = annotations
fig.update_layout(**layout)
fig.write_html("out.html")
